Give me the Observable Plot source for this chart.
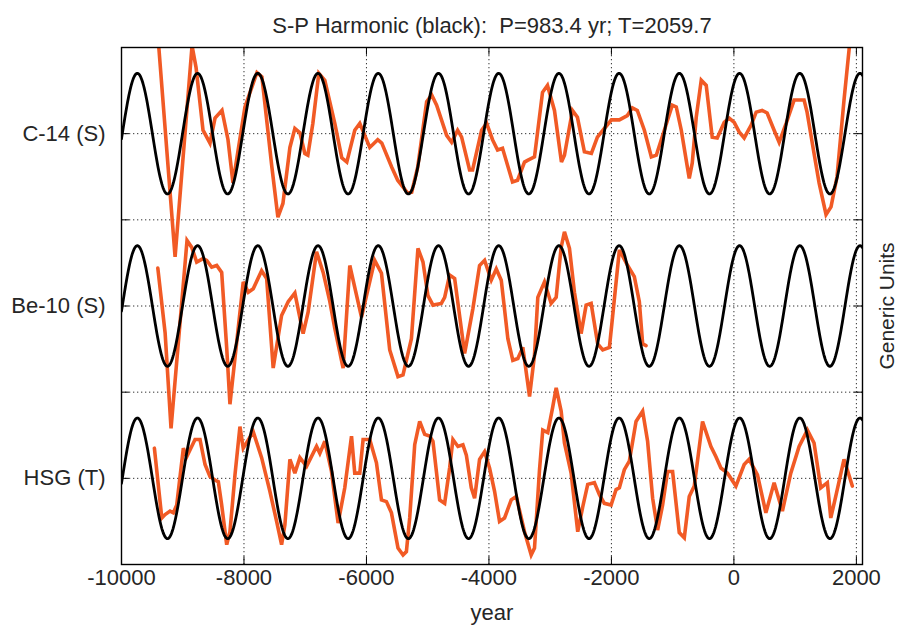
<!DOCTYPE html>
<html>
<head>
<meta charset="utf-8">
<script src="https://cdn.jsdelivr.net/npm/d3@7"></script>
<script src="https://cdn.jsdelivr.net/npm/@observablehq/plot@0.6"></script>
<style>
  html, body { margin: 0; padding: 0; background: #fff; }
  #chart svg { display: block; }
</style>
</head>
<body>
<div id="chart"></div>
<script>
// Harmonic parameters (from the title)
const P = 983.4;
const T = 2059.7;
const titleText = "S-P Harmonic (black):  P=983.4 yr; T=2059.7";

// Band names and their centre levels on the y axis
const bandNames = ["C-14 (S)", "Be-10 (S)", "HSG (T)"];
const bandCenters = [5, 3, 1];
const xTicks = [-10000, -8000, -6000, -4000, -2000, 0, 2000];
const yLevels = [1, 2, 3, 4, 5];

// C-14 (S): [year, generic value]
const c14 = [[-9480,1.82],[-9125,-1.43],[-8848,1.02],[-8783,0.77],[-8669,0.04],[-8555,-0.11],[-8473,0.18],[-8359,0.27],[-8261,-0.07],[-8180,-0.57],[-7984,0.31],[-7788,0.71],[-7707,0.66],[-7544,-0.39],[-7446,-0.97],[-7364,-0.81],[-7250,-0.16],[-7169,0.06],[-7087,0.01],[-7006,-0.23],[-6957,-0.25],[-6875,0.12],[-6778,0.70],[-6680,0.62],[-6517,0.12],[-6403,-0.28],[-6321,-0.33],[-6191,0.04],[-6109,0.12],[-5946,-0.16],[-5816,-0.07],[-5750,-0.11],[-5587,-0.39],[-5490,-0.54],[-5327,-0.69],[-5261,-0.68],[-5163,-0.39],[-5017,0.37],[-4935,0.45],[-4854,0.33],[-4691,-0.02],[-4609,-0.10],[-4511,0.04],[-4446,-0.04],[-4316,-0.42],[-4267,-0.42],[-4120,0.04],[-4038,0.12],[-3941,-0.07],[-3859,-0.19],[-3778,-0.17],[-3615,-0.56],[-3533,-0.54],[-3419,-0.33],[-3370,-0.31],[-3256,-0.27],[-3125,0.48],[-3044,0.56],[-2930,0.27],[-2816,-0.33],[-2767,-0.25],[-2636,0.27],[-2555,0.19],[-2441,-0.21],[-2327,-0.23],[-2229,-0.04],[-2115,0.06],[-2000,0.16],[-1870,0.16],[-1740,0.21],[-1658,0.30],[-1577,0.27],[-1462,0.04],[-1348,-0.27],[-1267,-0.25],[-1136,0.04],[-1006,0.33],[-941,0.31],[-859,0.04],[-778,-0.31],[-729,-0.52],[-680,-0.34],[-615,0.19],[-533,0.62],[-452,0.56],[-354,-0.04],[-272,-0.05],[-158,0.13],[-77,0.18],[5,0.13],[86,0.02],[168,-0.05],[282,0.10],[364,0.25],[461,0.27],[543,0.24],[657,0.04],[739,-0.10],[853,0.12],[983,0.39],[1146,0.39],[1195,0.25],[1309,-0.23],[1391,-0.57],[1505,-0.94],[1586,-0.85],[1684,-0.50],[1798,0.39],[1880,0.97],[1978,1.78]];

// Be-10 (S)
const be10 = [[-9407,0.44],[-9288,-0.31],[-9191,-1.42],[-8930,0.76],[-8853,0.68],[-8772,0.51],[-8669,0.55],[-8609,0.53],[-8527,0.45],[-8445,0.47],[-8364,0.39],[-8282,-0.49],[-8229,-1.14],[-8012,0.28],[-7930,0.16],[-7849,0.20],[-7712,0.41],[-7630,0.32],[-7523,-0.72],[-7386,-0.11],[-7278,0.05],[-7169,0.15],[-7034,-0.32],[-6952,-0.07],[-6815,0.63],[-6707,0.39],[-6598,0.05],[-6517,-0.26],[-6381,-0.72],[-6272,0.47],[-6081,-0.13],[-5865,0.53],[-5755,0.38],[-5620,-0.51],[-5485,-0.82],[-5403,-0.80],[-5266,-0.38],[-5159,0.67],[-5077,0.51],[-4996,0.12],[-4914,0.01],[-4777,0.03],[-4723,0.10],[-4642,0.36],[-4560,0.32],[-4397,-0.55],[-4262,-0.03],[-4153,0.47],[-4071,0.53],[-3962,0.30],[-3880,0.43],[-3799,0.30],[-3691,-0.38],[-3610,-0.63],[-3528,-0.61],[-3447,-0.48],[-3337,-1.05],[-3256,-0.57],[-3202,0.10],[-3093,0.28],[-2984,0.03],[-2902,0.10],[-2821,0.68],[-2767,0.86],[-2685,0.67],[-2604,0.16],[-2495,-0.32],[-2413,0.01],[-2331,0.03],[-2224,-0.44],[-2142,-0.51],[-2033,-0.48],[-1979,-0.11],[-1870,0.65],[-1735,0.47],[-1626,0.34],[-1544,0.05],[-1490,-0.44],[-1435,-0.46]];

// HSG (T)
const hsg = [[-9463,0.35],[-9342,-0.46],[-9288,-0.42],[-9207,-0.38],[-9153,-0.40],[-9098,-0.31],[-8990,0.35],[-8935,0.25],[-8799,0.45],[-8718,0.45],[-8636,0.16],[-8555,0.02],[-8473,-0.02],[-8419,-0.04],[-8364,-0.31],[-8282,-0.77],[-8229,-0.62],[-8147,0.04],[-8066,0.60],[-8012,0.35],[-7849,0.54],[-7712,0.24],[-7577,-0.15],[-7467,-0.50],[-7386,-0.77],[-7332,-0.54],[-7250,0.22],[-7169,0.06],[-7087,0.24],[-6978,0.14],[-6815,0.37],[-6761,0.29],[-6680,0.43],[-6571,0.08],[-6463,-0.52],[-6354,-0.11],[-6244,0.49],[-6191,0.06],[-6109,0.06],[-6055,0.45],[-5946,0.45],[-5837,0.18],[-5755,-0.25],[-5674,-0.27],[-5592,-0.40],[-5485,-0.81],[-5403,-0.89],[-5348,-0.85],[-5294,-0.46],[-5212,0.39],[-5131,0.66],[-5049,0.51],[-4968,0.49],[-4914,0.43],[-4805,-0.25],[-4723,-0.29],[-4642,0.12],[-4588,0.45],[-4506,0.37],[-4425,0.39],[-4369,0.27],[-4288,-0.11],[-4234,-0.23],[-4153,0.22],[-4071,0.31],[-3990,0.12],[-3908,-0.15],[-3827,-0.50],[-3745,-0.46],[-3636,-0.25],[-3554,-0.21],[-3419,-0.62],[-3310,-0.89],[-3256,-0.81],[-3174,0.10],[-3121,0.56],[-3039,0.53],[-2958,0.83],[-2902,1.05],[-2821,0.78],[-2767,0.41],[-2658,0.06],[-2550,-0.62],[-2468,-0.33],[-2387,-0.07],[-2278,-0.05],[-2196,-0.19],[-2115,-0.29],[-2005,-0.31],[-1924,-0.13],[-1870,-0.11],[-1789,0.10],[-1707,0.20],[-1598,0.66],[-1490,0.78],[-1409,0.43],[-1327,-0.23],[-1246,-0.60],[-1164,-0.31],[-1083,0.08],[-1001,0.08],[-892,-0.63],[-810,-0.69],[-729,-0.21],[-647,-0.09],[-512,0.66],[-375,0.37],[-293,0.25],[-212,0.12],[-104,0.06],[33,-0.09],[168,0.16],[249,0.22],[385,0.04],[522,-0.40],[657,-0.05],[792,-0.38],[929,0.06],[1065,0.37],[1200,0.56],[1309,0.41],[1418,-0.11],[1526,-0.05],[1582,-0.46],[1663,-0.21],[1798,0.22],[1852,0.10],[1934,-0.09]];

const seriesList = [c14, be10, hsg];

// Build tables
const redRows = [];
seriesList.forEach((s, i) => s.forEach(([t, v]) => redRows.push({band: bandNames[i], t, y: bandCenters[i] + v})));

const harmonicAmp = 0.7;
const years = d3.range(-10000, 2101, 10);
const blackRows = [];
bandNames.forEach((b, i) => years.forEach(t => blackRows.push({band: b, t, y: bandCenters[i] + harmonicAmp * Math.cos(2 * Math.PI * (t - T) / P)})));

const xDomain = [-10000, 2100];
const yDomain = [0, 6];
const font = "'Liberation Sans', Arial, Helvetica, sans-serif";
const txt = "#262626";

const tickLenX = 130;   // inward tick length in years
const tickLenY = 0.09;  // inward tick length in y units

const chart = Plot.plot({
  width: 901,
  height: 630,
  marginLeft: 121,
  marginRight: 39,
  marginTop: 47,
  marginBottom: 66,
  style: {fontFamily: font, fontSize: "22px", color: txt, background: "#fff"},
  x: {domain: xDomain},
  y: {domain: yDomain},
  marks: [
    // dotted grid
    Plot.ruleX(xTicks.filter(d => d > xDomain[0]), {stroke: "#333", strokeWidth: 1, strokeDasharray: "1.3,2.7"}),
    Plot.ruleY(yLevels, {stroke: "#333", strokeWidth: 1, strokeDasharray: "1.3,2.7"}),
    // inward ticks
    Plot.ruleX(xTicks, {y1: yDomain[0], y2: yDomain[0] + tickLenY, stroke: "#000", strokeWidth: 1}),
    Plot.ruleX(xTicks, {y1: yDomain[1] - tickLenY, y2: yDomain[1], stroke: "#000", strokeWidth: 1}),
    Plot.ruleY(yLevels, {x1: xDomain[0], x2: xDomain[0] + tickLenX, stroke: "#000", strokeWidth: 1}),
    Plot.ruleY(yLevels, {x1: xDomain[1] - tickLenX, x2: xDomain[1], stroke: "#000", strokeWidth: 1}),
    // red proxies
    Plot.line(redRows, {x: "t", y: "y", z: "band", stroke: "#f15a25", strokeWidth: 3.6, clip: true, strokeLinejoin: "miter", strokeMiterlimit: 3}),
    // black harmonic
    Plot.line(blackRows, {x: "t", y: "y", z: "band", stroke: "#000", strokeWidth: 2.8, clip: true}),
    Plot.frame({stroke: "#000", strokeWidth: 1.4}),
    Plot.axisX({ticks: xTicks, tickSize: 0, tickPadding: 5, fontSize: 22, label: null, tickFormat: d => String(d).replace("\u2212", "-")}),
    Plot.axisY({ticks: bandCenters, tickSize: 0, tickPadding: 16, fontSize: 22, label: null, tickFormat: d => bandNames[bandCenters.indexOf(d)]}),
    Plot.text([titleText], {frameAnchor: "top", dy: -30, fontSize: 22, fill: txt, textAnchor: "middle"}),
    Plot.text(["year"], {frameAnchor: "bottom", dy: 55, fontSize: 22, fill: txt, textAnchor: "middle"}),
    Plot.text(["Generic Units"], {frameAnchor: "right", dx: 25, rotate: -90, fontSize: 21, fill: txt, textAnchor: "middle"})
  ]
});
document.getElementById("chart").appendChild(chart);
</script>
</body>
</html>
